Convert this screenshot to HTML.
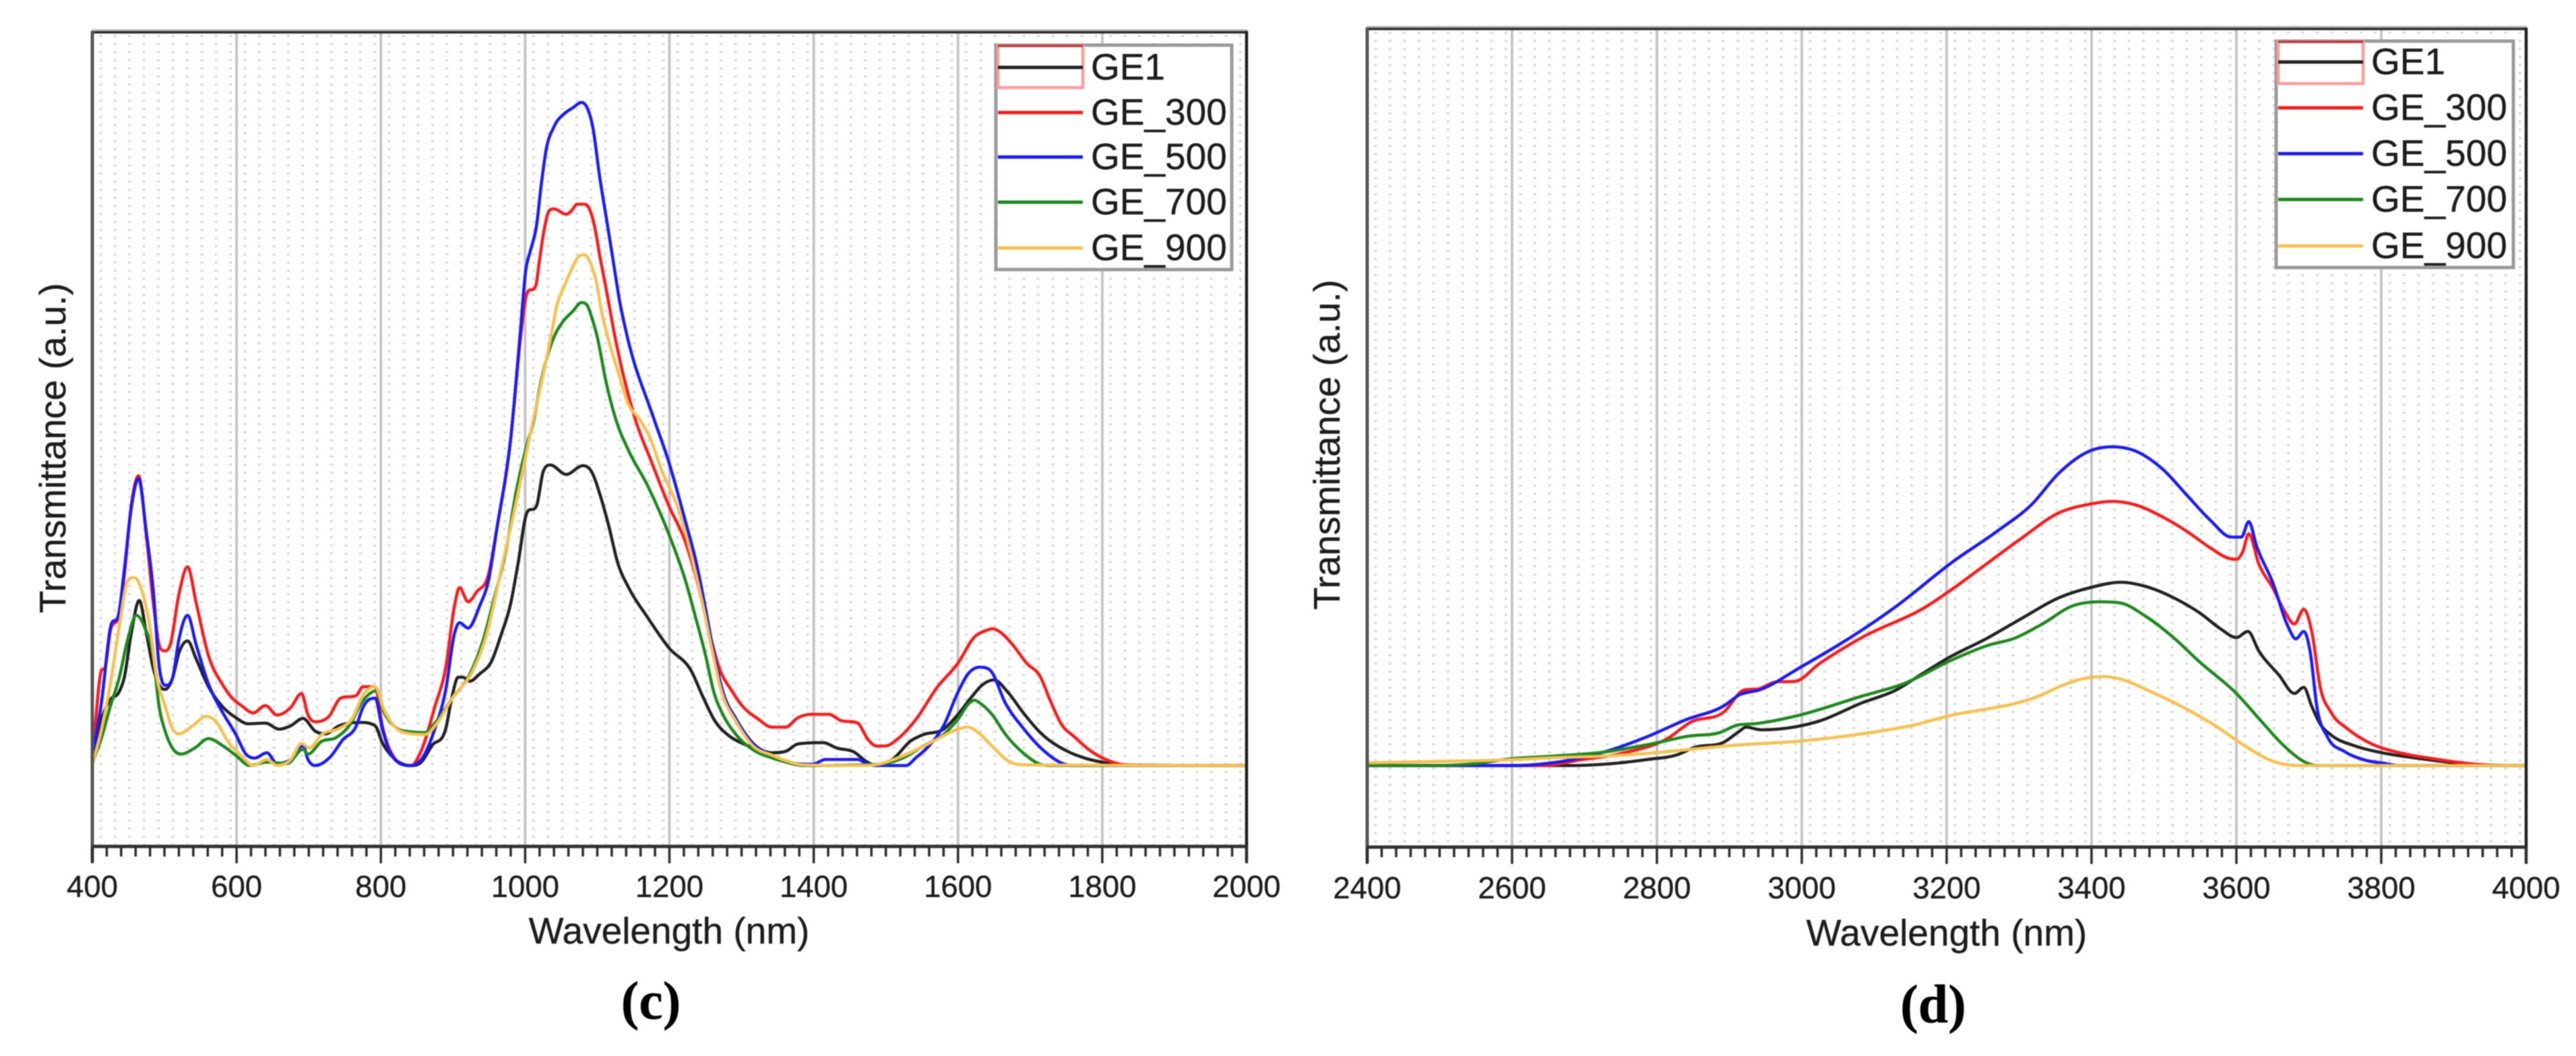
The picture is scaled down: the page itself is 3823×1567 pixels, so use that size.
<!DOCTYPE html>
<html lang="en">
<head>
<meta charset="utf-8">
<title>Transmittance spectra (c) and (d)</title>
<style>
html,body{margin:0;padding:0;background:#fff;width:3823px;height:1567px;overflow:hidden}
svg{display:block;filter:blur(0.8px)}
text{font-family:"Liberation Sans",sans-serif;fill:#1c1c1c;stroke:#1c1c1c;stroke-width:0.4px}
.serif{font-family:"Liberation Serif",serif;font-weight:bold;fill:#000;stroke:#000}
</style>
</head>
<body>
<svg id="figure" xmlns="http://www.w3.org/2000/svg" width="3823" height="1567" viewBox="0 0 3823 1567">
<defs>
<pattern id="dotsC" patternUnits="userSpaceOnUse" x="126" y="52" width="21.41" height="12"><rect width="4" height="3" fill="#d6d6d6"/></pattern>
<pattern id="dotsD" patternUnits="userSpaceOnUse" x="2018" y="47" width="21.5" height="12"><rect width="4" height="3" fill="#d6d6d6"/></pattern>
</defs>
<rect width="3823" height="1567" fill="#fff"/>
<g id="panelC"></g>
<g id="panelD"></g>
<text class="serif" x="966" y="1512" font-size="80" text-anchor="middle">(c)</text>
<text class="serif" x="2869" y="1517" font-size="80" text-anchor="middle">(d)</text>
</svg>
<script>
// ---- shared ----
const seriesNames = ['GE1', 'GE_300', 'GE_500', 'GE_700', 'GE_900'];
const seriesColors = ['#222222', '#ff1a1a', '#1a1aff', '#1c8a1c', '#f8c04e'];

// ---- panel (c): 400-2000 nm ----
const cTicks = [400, 600, 800, 1000, 1200, 1400, 1600, 1800, 2000];

const cBlackWl = [400,411,425,437,444,454,465,475,485,494,501,511,520,532,544,561,580,599,616,640,659,675,692,709,723,742,771,792,802,818,842,856,871,890,899,907,914,923,937,954,966,980,990,1002,1016,1025,1035,1057,1080,1091,1106,1116,1128,1144,1169,1199,1231,1246,1262,1284,1299,1323,1342,1361,1378,1413,1432,1456,1473,1487,1509,1535,1552,1580,1600,1619,1633,1650,1669,1690,1714,1752,1776,1805,1824,2000];
const cBlackVal = [1,6.3,9.8,10.9,12.9,19.6,24.5,19.6,14.2,11.7,11.3,12.9,16.7,18.5,15.8,11.7,8.8,7.1,6.2,6.3,5.4,5.9,7,5.1,4.7,5.9,6.4,5.9,3.4,1.1,0,0.5,3,5.5,10.4,13.1,13.1,12.5,13.6,15.6,19.2,24.1,29.9,37.4,38.6,43.6,44.6,43.2,44.5,43.8,39.4,35.5,30.2,26.3,22.1,17.5,13.9,10.3,6.8,4.3,3.4,2.4,1.9,2.1,3.2,3.4,2.6,2,0.6,0,0.9,3.7,4.6,5.4,7.6,10.2,11.9,12.7,10.9,7.9,4.9,2.1,1.1,0.4,0.1,0];

const cRedWl = [400,413,417,425,437,444,454,464,475,485,494,501,508,520,532,544,561,580,594,608,623,640,656,675,690,699,709,728,744,766,775,792,802,813,842,856,875,890,902,909,921,933,949,961,980,994,1002,1015,1019,1026,1033,1040,1057,1064,1072,1082,1089,1097,1103,1113,1124,1152,1175,1199,1222,1237,1256,1269,1287,1299,1323,1342,1361,1378,1397,1421,1437,1461,1475,1487,1499,1518,1542,1571,1600,1623,1638,1648,1657,1676,1695,1714,1728,1743,1762,1781,1805,1833,2000];
const cRedVal = [0.8,14.2,14.4,20,22.5,27.9,38.6,43,34,23.7,17.5,17,17.9,25.4,29.5,24.1,16.3,12.1,10,8.8,7.8,8.9,7.5,8.6,10.7,7.5,6.5,7.3,10,10.4,11.7,11.7,5.9,2.2,0,2.2,8.8,14.6,23.7,26.4,24.3,25.8,28.3,35.3,48.6,63.9,69.9,71.3,74.3,79.3,82.3,82.6,81.8,82.3,83.3,83.3,82.6,79.6,75.9,70.3,63.9,51.6,45.1,38.6,33.2,27.9,19.5,14.5,11,9.1,6.9,5.7,5.7,7.1,7.6,7.6,6.7,6.3,3.9,2.9,2.9,4.1,6.9,11.6,15.2,19.1,20,20.3,19.9,17.9,15.2,13.2,9.6,6.2,4.2,2.4,0.9,0.1,0];

const cBlueWl = [400,413,425,437,444,454,464,475,485,492,501,511,520,532,544,561,580,599,613,625,642,656,675,692,699,709,730,747,766,775,792,802,813,842,856,875,890,902,909,921,937,949,961,980,993,1001,1007,1016,1022,1029,1040,1055,1066,1078,1086,1094,1103,1113,1122,1131,1141,1178,1199,1222,1237,1250,1262,1274,1293,1315,1343,1361,1399,1416,1461,1475,1490,1528,1542,1557,1580,1600,1614,1630,1645,1666,1690,1719,1743,1757,2000];
const cBlueVal = [1,9.6,20.4,22.7,28.7,38.2,42.6,34.5,25.4,15.4,11.9,12.9,18.7,22.3,17.9,12.1,8,4.6,1.7,1.1,1.9,0.3,0.9,3,0.9,0,1.3,3.8,5.9,8.6,10,5.5,1.9,0,0.9,5.5,11.3,19.6,21.2,20.4,23.7,27.4,35.3,48.6,63.9,73.6,76.3,80.3,85.9,91.3,94.8,96.8,97.6,98.4,97.6,94.6,87.6,80.9,74.9,68.9,63.9,51.6,45.1,36.3,30.2,23.3,16.4,11,6.8,3.4,1.5,0.6,0.2,0.9,0.9,0.2,0,0,1.2,2.6,5.9,10.9,13.6,14.6,14.1,9.2,5.6,2.2,0.4,0,0];

const cGreenWl = [400,413,425,437,449,461,473,485,492,501,511,523,542,561,580,599,618,642,670,692,699,718,737,756,775,794,804,818,842,861,875,899,923,942,957,973,988,1003,1012,1020,1030,1040,1054,1066,1078,1086,1092,1100,1112,1125,1144,1169,1199,1222,1237,1250,1262,1274,1293,1315,1343,1362,1385,1490,1523,1552,1580,1600,1616,1623,1630,1647,1666,1690,1714,1728,2000];
const cGreenVal = [0.3,4.2,8.8,12.9,18.7,22.3,20.4,15.8,9.2,5.1,2.6,1.7,2.6,4,3,1.5,0,0.5,0.3,2.4,1.7,3.6,4.1,5.9,9.6,11.1,8,5.9,5,4.9,6.3,10,13.5,18.7,24.8,31.7,40.9,47.8,51.2,56,60.5,63.6,66.1,67.4,68.7,68.3,66.6,63.6,57,51.6,46.6,41.7,34.4,27.5,21.7,16.4,10.7,7.6,4.5,2.4,1.1,0.5,0,0.2,1.1,2.9,4.6,6.9,9.3,9.7,9.3,7.6,4.6,1.9,0.2,0,0];

const cOrangeWl = [400,413,425,437,449,458,468,480,489,501,511,520,539,558,570,589,608,623,642,656,675,690,701,718,742,761,775,792,804,818,842,861,878,899,928,947,966,985,1006,1036,1044,1052,1063,1073,1082,1089,1099,1106,1114,1130,1143,1157,1172,1190,1212,1231,1246,1259,1271,1293,1315,1343,1362,1385,1466,1490,1518,1547,1571,1595,1614,1628,1647,1671,1690,2000];
const cOrangeVal = [0,5.5,12.1,20.4,27.4,27.9,26.2,20.4,13.3,8.8,5.5,4.7,5.9,7.3,6.7,3.4,1.3,0,0.9,0,0.9,3.3,2.6,4.6,5.5,7.1,10.4,11.7,8.4,5.9,4.7,4.6,6.3,10,14.2,19.6,28.7,37.8,48.6,63.8,68.3,70.6,73.3,75.4,75.8,74.9,71.6,67.3,63.8,58,53.6,51.6,48.9,43.6,38.2,30.9,24,17.2,11.4,6.4,3,1.5,0.7,0.1,0,0.2,1.2,2.6,3.9,5.2,5.7,4.9,2.9,0.6,0.1,0];

// ---- panel (d): 2400-4000 nm ----
const dTicks = [2400, 2600, 2800, 3000, 3200, 3400, 3600, 3800, 4000];

const dBlackWl = [2400,2680,2727,2787,2828,2852,2893,2914,2923,2944,2994,3024,3083,3130,3166,3201,3256,3303,3355,3398,3441,3474,3517,3550,3578,3600,3616,3631,3659,3680,3693,3704,3716,3730,3764,3801,3849,3901,3960,4000];
const dBlackVal = [0,0,0.2,0.9,1.6,2.7,3.5,5.1,5.7,5.3,5.8,6.6,9.3,11.2,13.6,15.9,18.9,21.8,24.9,26.4,27.2,26.6,24.7,22.6,20.3,19,19.9,17,13.4,10.7,11.6,8.8,6.1,4.6,2.9,1.9,1.1,0.4,0,0];

const dRedWl = [2400,2644,2692,2751,2816,2846,2893,2920,2941,2964,2991,3024,3083,3172,3208,3256,3303,3355,3398,3429,3460,3498,3531,3564,3588,3600,3609,3617,3631,3650,3666,3680,3693,3704,3716,3730,3754,3783,3825,3873,3920,3990,4000];
const dRedVal = [0,0,0.8,1.8,4.1,6.4,8,11.2,11.4,12.4,12.5,15.1,19,23.6,26.2,30,33.7,37.5,38.8,39.2,38.7,36.9,34.8,32.3,30.8,30.6,31.8,34.4,29.9,26.4,23,21,23.2,19.9,11.5,8,5.4,3.4,1.9,1,0.3,0,0];

const dBlueWl = [2400,2600,2668,2727,2787,2840,2893,2914,2941,3000,3083,3130,3208,3270,3317,3355,3398,3429,3460,3498,3531,3564,3593,3607,3617,3628,3650,3671,3682,3693,3702,3711,3726,3749,3778,3806,3825,4000];
const dBlueVal = [0,0,0.6,2,4.3,6.8,8.9,10.5,11.2,14.7,20.1,23.6,30.2,34.8,38.7,43.4,46.7,47.3,46.7,44,40.2,36.4,33.9,33.9,36.2,32.5,27.2,20.7,18.8,19.9,16.8,8.8,4.2,2.1,0.8,0.3,0,0];

const dGreenWl = [2400,2484,2550,2597,2656,2727,2787,2846,2887,2911,2935,2994,3083,3142,3208,3256,3294,3332,3374,3412,3441,3474,3512,3550,3600,3635,3664,3697,3711,4000];
const dGreenVal = [0,0,0.3,1,1.4,2,3.1,4.4,4.9,6,6.2,7.4,10.3,12.2,15.7,17.8,18.9,21,23.7,24.3,24.1,22.2,19.1,15.3,10.7,6.5,3.1,0.4,0,0];

const dOrangeWl = [2400,2490,2580,2668,2727,2787,2846,2905,2994,3083,3154,3208,3256,3294,3327,3360,3389,3417,3441,3479,3531,3574,3612,3654,3687,4000];
const dOrangeVal = [0.4,0.6,0.8,1.2,1.4,1.8,2.4,3,3.6,4.7,6,7.5,8.4,9.2,10.3,11.9,12.9,13.2,12.8,11.1,8.4,5.7,2.9,0.5,0,0];

const SVG_NS = 'http://www.w3.org/2000/svg';

function make(parent, tag, attrs) {
  const el = document.createElementNS(SVG_NS, tag);
  for (const k in attrs) el.setAttribute(k, attrs[k]);
  parent.appendChild(el);
  return el;
}

function smoothPath(xs, ys) {
  const n = xs.length;
  const h = [], d = [], m = [];
  for (let i = 0; i < n - 1; i++) {
    h[i] = xs[i + 1] - xs[i];
    d[i] = (ys[i + 1] - ys[i]) / h[i];
  }
  m[0] = d[0];
  m[n - 1] = d[n - 2];
  for (let i = 1; i < n - 1; i++) {
    if (d[i - 1] * d[i] <= 0) { m[i] = 0; continue; }
    const t = (d[i - 1] * h[i] + d[i] * h[i - 1]) / (h[i] + h[i - 1]);
    const lim = 3 * Math.min(Math.abs(d[i - 1]), Math.abs(d[i]));
    m[i] = Math.sign(t) * Math.min(Math.abs(t), lim);
  }
  let p = 'M' + xs[0].toFixed(1) + ' ' + ys[0].toFixed(1);
  for (let i = 0; i < n - 1; i++) {
    const c = h[i] / 3;
    p += 'C' + (xs[i] + c).toFixed(1) + ' ' + (ys[i] + m[i] * c).toFixed(1) + ' ' +
         (xs[i + 1] - c).toFixed(1) + ' ' + (ys[i + 1] - m[i + 1] * c).toFixed(1) + ' ' +
         xs[i + 1].toFixed(1) + ' ' + ys[i + 1].toFixed(1);
  }
  return p;
}

function drawPanel(g, o) {
  const xScale = v => o.left + (v - o.xMin) / (o.xMax - o.xMin) * (o.right - o.left);
  const yScale = v => o.bottom - (v - o.yMin) / (o.yMax - o.yMin) * (o.bottom - o.top);

  const dots = make(g, 'rect', {x: o.left, y: o.top + 4, width: o.right - o.left, height: o.bottom - o.top - 6, fill: 'url(#' + o.dots + ')'});
  
  

  o.ticks.forEach((t, i) => {
    if (i === 0 || i === o.ticks.length - 1) return;
    const line = make(g, 'line', {x1: xScale(t), x2: xScale(t), y1: o.top, y2: o.bottom, stroke: '#c4c4c4', 'stroke-width': 4});
    
    
  });

  o.series.forEach((s, i) => {
    const xs = s.wl.map(xScale);
    const ys = s.val.map(yScale);
    const path = make(g, 'path', {d: smoothPath(xs, ys), fill: 'none', stroke: seriesColors[i], 'stroke-width': 4.6, 'stroke-linejoin': 'round'});
    
    
  });

  const frame = [
    [o.left - 1, o.top - 3, o.right + 1, o.top - 3, '#b4b4b4', 3],
    [o.left - 1, o.top, o.right + 1, o.top, '#2a2a2a', 3.5],
    [o.right, o.top - 2, o.right, o.bottom + 24, '#1e1e1e', 4.5],
    [o.left, o.top - 2, o.left, o.bottom + 24, '#555555', 5],
    [o.left, o.bottom, o.right, o.bottom, '#333333', 5]
  ];
  frame.forEach(f => {
    const line = make(g, 'line', {x1: f[0], y1: f[1], x2: f[2], y2: f[3], stroke: f[4], 'stroke-width': f[5]});
    
    
  });

  const minorStep = 20;
  for (let v = o.xMin; v <= o.xMax; v += minorStep) {
    const major = (v - o.xMin) % 200 === 0;
    const tick = make(g, 'line', {x1: xScale(v), x2: xScale(v), y1: o.bottom, y2: o.bottom + (major ? 25 : 15), stroke: '#2e2e2e', 'stroke-width': major ? 3.6 : 3.6});
    
    
  }

  o.ticks.forEach(t => {
    const label = make(g, 'text', {x: xScale(t), y: o.tickY, 'font-size': 45.5, 'text-anchor': 'middle'});
    label.textContent = String(t);
    
    
  });

  const xTitle = make(g, 'text', {x: o.xTitleX, y: o.xTitleY, 'font-size': 55, 'text-anchor': 'middle'});
  xTitle.textContent = 'Wavelength (nm)';
  
  

  const yTitle = make(g, 'text', {x: 0, y: 0, 'font-size': 55, 'text-anchor': 'middle', transform: 'translate(' + o.yTitleX + ' ' + o.yTitleY + ') rotate(-90)'});
  yTitle.textContent = 'Transmittance (a.u.)';
  
  

  const L = o.legend;
  const legend = make(g, 'g', {});
  
  
  const box = make(legend, 'rect', {x: L.x, y: L.y, width: L.w, height: L.h, fill: '#fff', stroke: '#9a9a9a', 'stroke-width': 5});
  
  
  const sel = make(legend, 'rect', {x: L.lineX, y: L.y + 1, width: L.lineW, height: 62, fill: 'none', stroke: '#ff9a9a', 'stroke-width': 4.5});
  
  
  const selTop = make(legend, 'line', {x1: L.lineX, x2: L.lineX + L.lineW, y1: L.y + 1, y2: L.y + 1, stroke: '#b83a3a', 'stroke-width': 3.5});
  
  

  seriesNames.forEach((name, i) => {
    const ly = L.rows[i];
    const swatch = make(legend, 'line', {x1: L.lineX, x2: L.lineX + L.lineW, y1: ly, y2: ly, stroke: seriesColors[i], 'stroke-width': 5});
    
    
    const txt = make(legend, 'text', {x: L.textX, y: ly + 18, 'font-size': 55});
    txt.textContent = name;
    
    
  });
}

drawPanel(document.getElementById('panelC'), {
  left: 137, right: 1850, top: 48, bottom: 1256,
  xMin: 400, xMax: 2000, yMin: -12, yMax: 108.8,
  dots: 'dotsC', ticks: cTicks, tickY: 1331,
  xTitleX: 993, xTitleY: 1400, yTitleX: 97, yTitleY: 665,
  series: [
    {wl: cBlackWl, val: cBlackVal},
    {wl: cRedWl, val: cRedVal},
    {wl: cBlueWl, val: cBlueVal},
    {wl: cGreenWl, val: cGreenVal},
    {wl: cOrangeWl, val: cOrangeVal}
  ],
  legend: {x: 1478, y: 67, w: 350, h: 333, lineX: 1481, lineW: 126, textX: 1619, rows: [100, 167, 233, 300, 368]}
});

drawPanel(document.getElementById('panelD'), {
  left: 2029, right: 3749, top: 43, bottom: 1257,
  xMin: 2400, xMax: 4000, yMin: -12.1, yMax: 109.3,
  dots: 'dotsD', ticks: dTicks, tickY: 1333,
  xTitleX: 2889, xTitleY: 1403, yTitleX: 1988, yTitleY: 660,
  series: [
    {wl: dBlackWl, val: dBlackVal},
    {wl: dRedWl, val: dRedVal},
    {wl: dBlueWl, val: dBlueVal},
    {wl: dGreenWl, val: dGreenVal},
    {wl: dOrangeWl, val: dOrangeVal}
  ],
  legend: {x: 3378, y: 61, w: 352, h: 336, lineX: 3381, lineW: 126, textX: 3519, rows: [92, 160, 228, 296, 365]}
});
</script>
</body>
</html>
